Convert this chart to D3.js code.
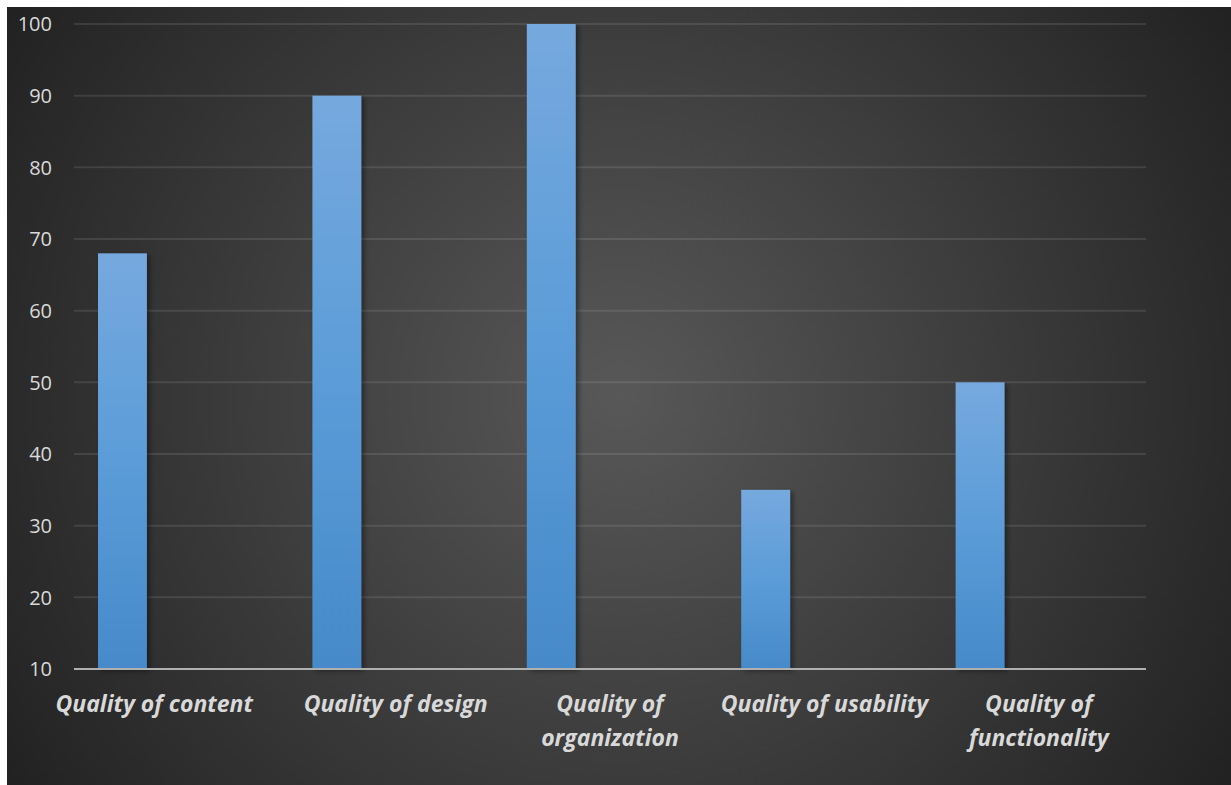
<!DOCTYPE html>
<html lang="en">
<head>
    <meta charset="UTF-8">
    <title>Quality chart</title>
    <script src="https://cdn.jsdelivr.net/npm/d3@7"></script>
    <style>
        html, body {
            margin: 0;
            padding: 0;
            width: 100%;
            height: 100%;
            overflow: hidden;
            background: #ffffff;
        }
        .tick-label {
            font-family: "Open Sans", "Noto Sans", sans-serif;
            font-size: 20px;
            fill: #d9d9d9;
        }
        .cat-label {
            font-family: "Open Sans", "Noto Sans", sans-serif;
            font-size: 23px;
            font-weight: bold;
            font-style: italic;
            fill: #d9d9d9;
        }
    </style>
</head>
<body>
</body>
<script>
    // data
    const categories = [
        ['Quality of content'],
        ['Quality of design'],
        ['Quality of', 'organization'],
        ['Quality of usability'],
        ['Quality of', 'functionality']
    ];
    const values = [68, 90, 100, 35, 50];
    const yTicks = [10, 20, 30, 40, 50, 60, 70, 80, 90, 100];

    const width = 1231;
    const height = 785;
    const margin = {left: 74, right: 85, top: 24, bottom: 116};

    let svg = d3.select('body')
        .append('svg')
        .attr('width', width)
        .attr('height', height);

    let defs = svg.append('defs');

    // background radial gradient
    let bg = defs.append('radialGradient')
        .attr('id', 'bg')
        .attr('gradientUnits', 'userSpaceOnUse')
        .attr('cx', 619).attr('cy', 396).attr('r', 760);
    bg.append('stop').attr('offset', '0%').attr('stop-color', '#585858');
    bg.append('stop').attr('offset', '100%').attr('stop-color', '#1f1f1f');

    // bar gradient
    let bar = defs.append('linearGradient')
        .attr('id', 'barGrad')
        .attr('x1', 0).attr('y1', 0).attr('x2', 0).attr('y2', 1);
    bar.append('stop').attr('offset', '0%').attr('stop-color', '#76a9de');
    bar.append('stop').attr('offset', '50%').attr('stop-color', '#5b9cd8');
    bar.append('stop').attr('offset', '100%').attr('stop-color', '#468aca');

    let shadow = defs.append('filter')
        .attr('id', 'shadow')
        .attr('x', '-20%').attr('y', '-5%').attr('width', '150%').attr('height', '110%');
    shadow.append('feDropShadow')
        .attr('dx', 3).attr('dy', 2).attr('stdDeviation', 2.5)
        .attr('flood-color', '#000000').attr('flood-opacity', 0.4);

    svg.append('rect')
        .attr('x', 7).attr('y', 7)
        .attr('width', width - 7).attr('height', height - 7)
        .attr('fill', 'url(#bg)');

    let x = d3.scaleBand()
        .domain(d3.range(categories.length))
        .range([margin.left, width - margin.right]);

    let y = d3.scaleLinear()
        .domain([10, 100])
        .range([height - margin.bottom, margin.top]);

    // gridlines
    svg.append('g')
        .selectAll('line')
        .data(yTicks.slice(1))
        .enter().append('line')
        .attr('x1', margin.left)
        .attr('x2', width - margin.right)
        .attr('y1', d => y(d))
        .attr('y2', d => y(d))
        .attr('stroke', '#ffffff')
        .attr('stroke-opacity', 0.1)
        .attr('stroke-width', 2);

    // y tick labels
    svg.append('g')
        .selectAll('text')
        .data(yTicks)
        .enter().append('text')
        .classed('tick-label', true)
        .attr('x', 52)
        .attr('y', d => y(d))
        .attr('dy', '0.36em')
        .attr('text-anchor', 'end')
        .text(d => d);

    // bars (first slot of a two-slot cluster)
    let barOffset = x.bandwidth() * 0.112;
    let barWidth = x.bandwidth() * 0.228;
    svg.append('g')
        .selectAll('rect')
        .data(values)
        .enter().append('rect')
        .attr('x', (d, i) => x(i) + barOffset)
        .attr('y', d => y(d))
        .attr('width', barWidth)
        .attr('height', d => y(10) - y(d))
        .attr('fill', 'url(#barGrad)')
        .attr('filter', 'url(#shadow)');

    // x axis line
    svg.append('line')
        .attr('x1', margin.left)
        .attr('x2', width - margin.right)
        .attr('y1', y(10))
        .attr('y2', y(10))
        .attr('stroke', '#b0b0b0')
        .attr('stroke-width', 2);

    // category labels
    let labelShift = [-27, 0, 0, 0, 0];
    svg.append('g')
        .selectAll('text')
        .data(categories)
        .enter().append('text')
        .classed('cat-label', true)
        .attr('text-anchor', 'middle')
        .attr('transform', (d, i) => `translate(${x(i) + x.bandwidth() / 2 + labelShift[i]},${y(10) + 43})`)
        .each(function (d) {
            let t = d3.select(this);
            d.forEach((line, j) => {
                t.append('tspan')
                    .attr('x', 0)
                    .attr('y', j * 34)
                    .text(line);
            });
        });
</script>
</html>
